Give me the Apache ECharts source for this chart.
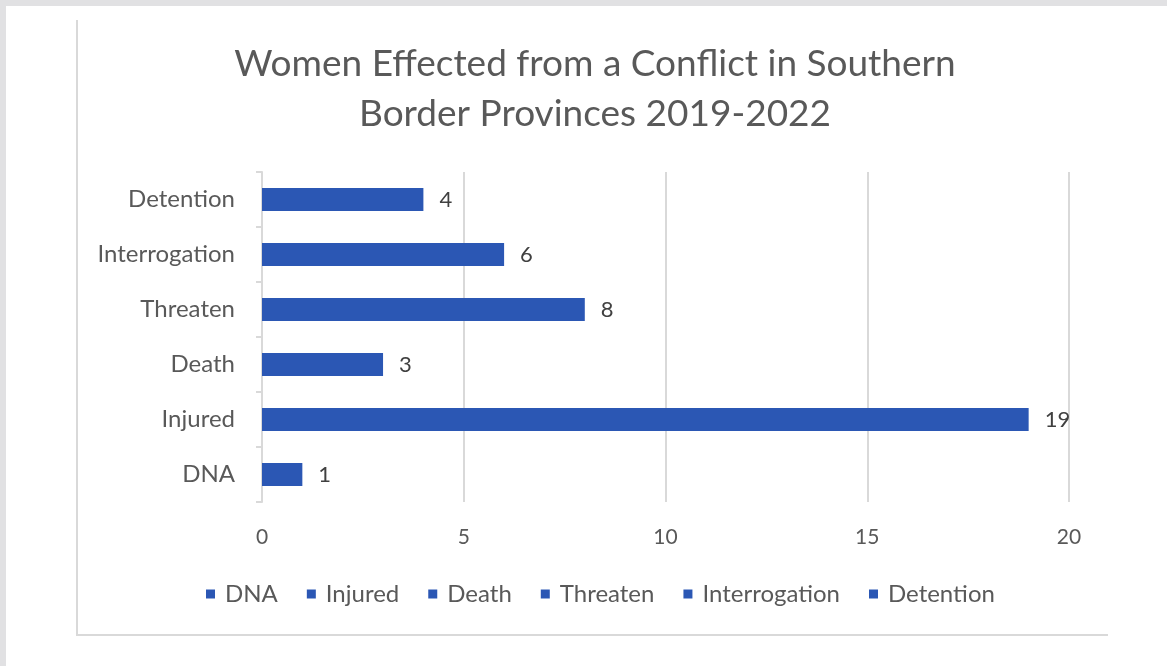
<!DOCTYPE html>
<html>
<head>
<meta charset="utf-8">
<script src="https://cdn.jsdelivr.net/npm/echarts@6/dist/echarts.min.js"></script>
<style>
  html, body { margin: 0; padding: 0; background: #ffffff; }
  #wrap { position: relative; width: 1167px; height: 666px; background: #ffffff; overflow: hidden; }
  #bandTop { position: absolute; left: 0; top: 0; width: 1167px; height: 6px; background: #e1e1e3; }
  #bandLeft { position: absolute; left: 0; top: 0; width: 6px; height: 666px; background: #e1e1e3; }
  #frame { position: absolute; left: 76px; top: 20px; width: 1030px; height: 614px;
           border-left: 2px solid #d9d9d9; border-bottom: 2px solid #d9d9d9; }
  #chart { position: absolute; left: 0; top: 0; width: 1167px; height: 666px; }
</style>
</head>
<body>
<div id="wrap">
  <div id="bandTop"></div>
  <div id="bandLeft"></div>
  <div id="frame"></div>
  <div id="chart"></div>
</div>
<script>
const titleText = 'Women Effected from a Conflict in Southern\nBorder Provinces 2019-2022';
const categories = ['DNA', 'Injured', 'Death', 'Threaten', 'Interrogation', 'Detention'];
const values = [1, 19, 3, 8, 6, 4];
const xTicks = [0, 5, 10, 15, 20];

const FONT = 'Lato, "Open Sans", sans-serif';
const BLUE = '#2b57b4';
const GREY_TEXT = '#595959';
const GRID_LINE = '#d9d9d9';

const series = categories.map(function (name, i) {
  return {
    name: name,
    type: 'bar',
    stack: 'all',
    barWidth: 23,
    itemStyle: { color: BLUE },
    label: {
      show: true,
      position: 'right',
      distance: 16,
      color: '#404040',
      fontFamily: FONT,
      fontSize: 22
    },
    data: categories.map(function (c, j) { return j === i ? values[i] : '-'; })
  };
});

const chart = echarts.init(document.getElementById('chart'), null, { renderer: 'canvas' });
chart.setOption({
  animation: false,
  backgroundColor: 'transparent',
  title: {
    text: titleText,
    left: 590,
    top: 34,
    textAlign: 'center',
    textStyle: {
      fontFamily: FONT,
      fontSize: 37,
      fontWeight: 'normal',
      color: GREY_TEXT,
      lineHeight: 50
    }
  },
  legend: {
    data: categories,
    top: 577,
    left: 201,
    icon: 'rect',
    itemWidth: 9,
    itemHeight: 9,
    itemGap: 29,
    textStyle: {
      fontFamily: FONT,
      fontSize: 24,
      color: GREY_TEXT,
      padding: [0, 0, 0, 5]
    }
  },
  grid: { left: 262, right: 98, top: 172, bottom: 164 },
  xAxis: {
    type: 'value',
    min: xTicks[0],
    max: xTicks[xTicks.length - 1],
    interval: xTicks[1] - xTicks[0],
    axisLine: { show: false },
    axisTick: { show: false },
    axisLabel: { color: GREY_TEXT, fontFamily: FONT, fontSize: 21, margin: 25 },
    splitLine: { show: true, lineStyle: { color: GRID_LINE, width: 2 } }
  },
  yAxis: {
    type: 'category',
    data: categories,
    axisLine: { show: true, lineStyle: { color: GRID_LINE, width: 2 } },
    axisTick: { show: true, length: 6, lineStyle: { color: GRID_LINE, width: 2 } },
    axisLabel: { color: GREY_TEXT, fontFamily: FONT, fontSize: 24, margin: 27 }
  },
  series: series
});
</script>
</body>
</html>
